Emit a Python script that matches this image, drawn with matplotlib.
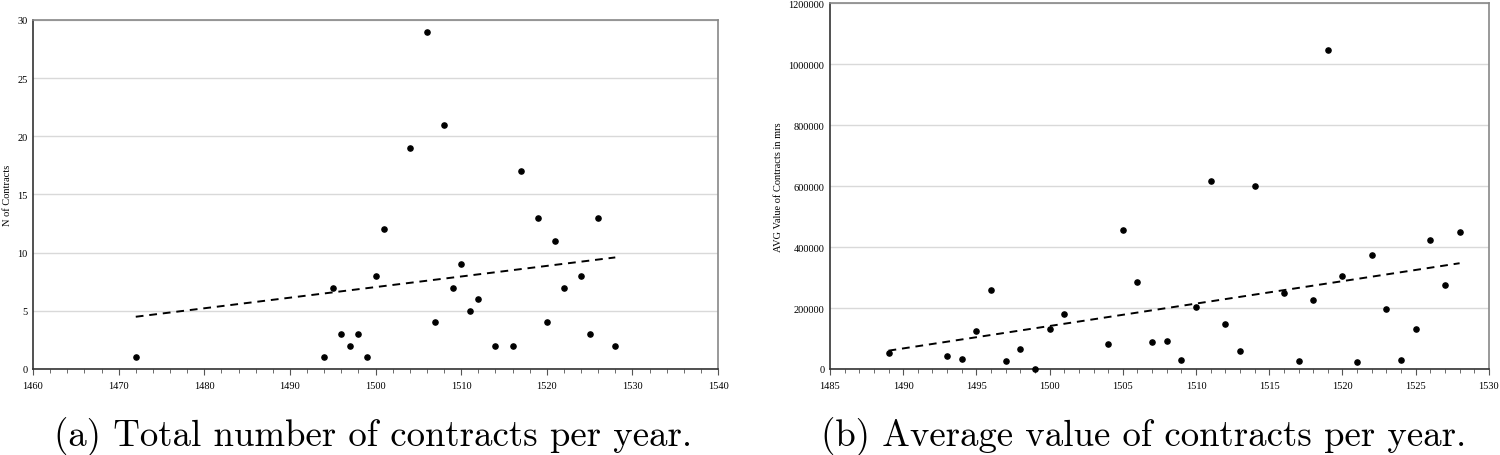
import numpy as np
import matplotlib
matplotlib.use('Agg')
import matplotlib.pyplot as plt
from matplotlib.ticker import MultipleLocator

# (a) number of contracts per year
years_a = [1472, 1494, 1495, 1496, 1497, 1498, 1499, 1500, 1501, 1504, 1506, 1507,
           1508, 1509, 1510, 1511, 1512, 1514, 1516, 1517, 1519, 1520, 1521, 1522,
           1524, 1525, 1526, 1528]
n_contracts = [1, 1, 7, 3, 2, 3, 1, 8, 12, 19, 29, 4,
               21, 7, 9, 5, 6, 2, 2, 17, 13, 4, 11, 7,
               8, 3, 13, 2]

# (b) average value of contracts per year (mrs)
years_b = [1489, 1493, 1494, 1495, 1496, 1497, 1498, 1499, 1500, 1501, 1504, 1505,
           1506, 1507, 1508, 1509, 1510, 1511, 1512, 1513, 1514, 1516, 1517, 1518,
           1519, 1520, 1521, 1522, 1523, 1524, 1525, 1526, 1527, 1528]
avg_value = [52000, 43000, 34000, 125000, 259000, 26000, 67000, 1000, 132000, 179000, 82000, 457000,
             285000, 90000, 93000, 31000, 203000, 618000, 148000, 59000, 600000, 249000, 27000, 227000,
             1047000, 306000, 24000, 374000, 197000, 30000, 131000, 423000, 275000, 450000]

captions = ['(a) Total number of contracts per year.',
            '(b) Average value of contracts per year.']

plt.rcParams['font.family'] = ['Liberation Serif', 'DejaVu Serif']

fig = plt.figure(figsize=(15, 4.56), dpi=100)


def style_axes(ax):
    ax.set_facecolor('white')
    ax.grid(axis='y', color='#d9d9d9', linewidth=1.0)
    ax.set_axisbelow(True)
    ax.spines['left'].set_color('#333333')
    ax.spines['bottom'].set_color('#333333')
    ax.spines['top'].set_color('#888888')
    ax.spines['right'].set_color('#888888')
    for s in ax.spines.values():
        s.set_linewidth(1.2)
    ax.tick_params(axis='y', length=0, labelsize=7.5, pad=4)
    ax.tick_params(axis='x', which='major', length=4, labelsize=7.5, direction='out', color='#555555', pad=5)
    ax.tick_params(axis='x', which='minor', length=3, direction='out', color='#555555')


def scatter_trend(ax, x, y):
    x = np.array(x, dtype=float)
    y = np.array(y, dtype=float)
    ax.scatter(x, y, s=14, color='black', zorder=3, clip_on=False)
    k, b = np.polyfit(x, y, 1)
    xs = np.array([x.min(), x.max()])
    ax.plot(xs, k * xs + b, color='black', linestyle=(0, (4, 3)), linewidth=1.4, zorder=2)


# left panel
ax1 = fig.add_axes([0.022, 0.1886, 0.4567, 0.7654])
scatter_trend(ax1, years_a, n_contracts)
ax1.set_xlim(1460, 1540)
ax1.set_ylim(0, 30)
ax1.xaxis.set_major_locator(MultipleLocator(10))
ax1.xaxis.set_minor_locator(MultipleLocator(2))
ax1.yaxis.set_major_locator(MultipleLocator(5))
style_axes(ax1)
ax1.set_ylabel('N of Contracts', fontsize=7.5, labelpad=4)

# right panel
ax2 = fig.add_axes([0.5533, 0.1886, 0.4393, 0.8026])
scatter_trend(ax2, years_b, avg_value)
ax2.set_xlim(1485, 1530)
ax2.set_ylim(0, 1200000)
ax2.xaxis.set_major_locator(MultipleLocator(5))
ax2.xaxis.set_minor_locator(MultipleLocator(1))
ax2.yaxis.set_major_locator(MultipleLocator(200000))
ax2.ticklabel_format(axis='y', style='plain', useOffset=False)
style_axes(ax2)
ax2.set_ylabel('AVG Value of Contracts in mrs', fontsize=7.5, labelpad=4)

# captions
fig.text(0.036, 0.021, captions[0], family='cmr10', fontsize=26.5, ha='left', va='baseline')
fig.text(0.547, 0.021, captions[1], family='cmr10', fontsize=26.5, ha='left', va='baseline')

fig.savefig('out.png', dpi=100, facecolor='white')
